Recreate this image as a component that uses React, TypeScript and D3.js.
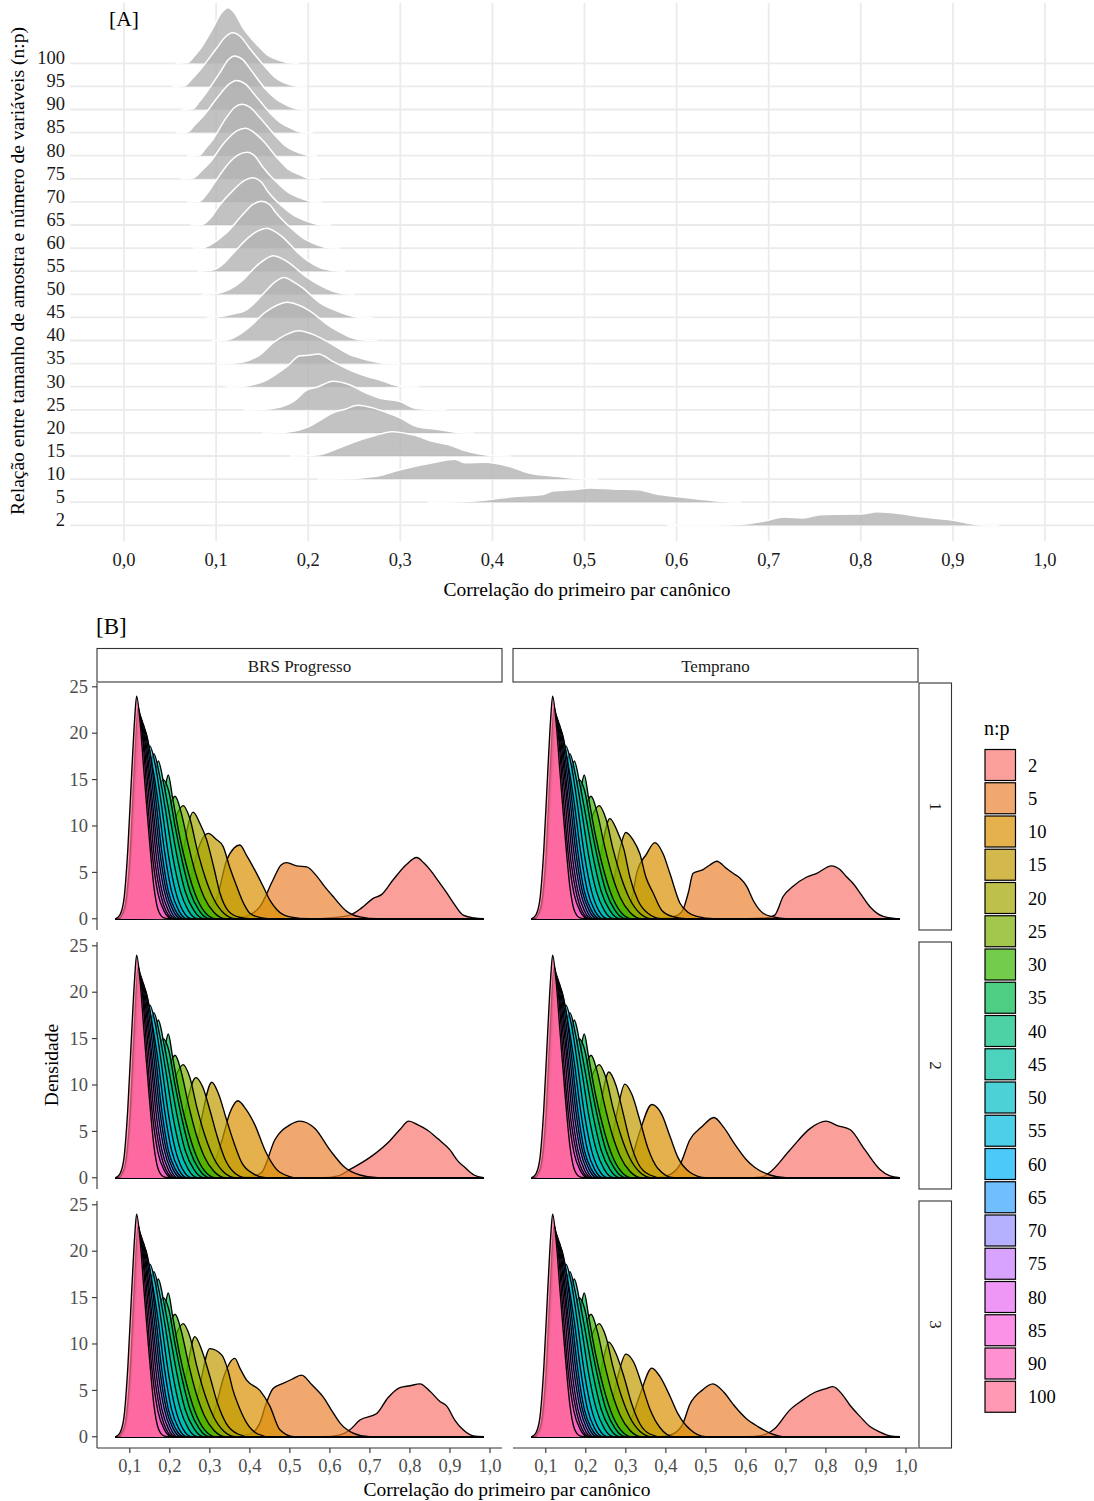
import React from 'react';
import * as d3 from 'd3';

// ---- data ----
// panel A: rows of the ridgeline plot (n:p), bottom to top
const levelsA = [2, 5, 10, 15, 20, 25, 30, 35, 40, 45, 50, 55, 60, 65, 70, 75, 80, 85, 90, 95, 100];

// pooled densities per row, [correlation, density]
const ridgeA: [number, number][][] = [
  // 2
  [[.59, 0], [.635, 0], [.67, .4], [.695, 1.8], [.717, 3.6], [.737, 3.2], [.756, 4.6], [.78, 4.8], [.8, 4.9], [.818, 5.8], [.842, 5.1], [.862, 3.9], [.88, 3.0], [.9, 2.2], [.915, 1.0], [.93, .2], [.95, 0]],
  // 5
  [[.33, 0], [.36, .1], [.39, .8], [.424, 2.5], [.453, 3.2], [.467, 4.9], [.49, 5.5], [.506, 6.1], [.53, 5.7], [.559, 5.4], [.578, 3.5], [.6, 2.5], [.616, 1.7], [.635, .9], [.655, .2], [.67, 0]],
  // 10
  [[.21, 0], [.235, .1], [.26, .6], [.274, 1.2], [.3, 4], [.335, 7], [.359, 8.6], [.371, 7], [.393, 7.3], [.418, 5.5], [.44, 2.6], [.469, 1.2], [.498, .1], [.515, 0]],
  // 15
  [[.18, 0], [.2, .2], [.215, .8], [.234, 3.5], [.253, 6.5], [.27, 8.5], [.291, 10.5], [.315, 9], [.335, 6.3], [.353, 4.8], [.371, 2.2], [.385, 1], [.4, .2], [.42, 0]],
  // 20
  [[.15, 0], [.166, .1], [.191, 1.4], [.2, 2.6], [.215, 6], [.227, 8.7], [.24, 10.2], [.254, 11.9], [.27, 10.8], [.285, 8.8], [.3, 6.5], [.317, 2.9], [.343, 1.4], [.364, .2], [.38, 0]],
  // 25
  [[.13, 0], [.148, .1], [.17, 1.2], [.184, 3.6], [.198, 8.4], [.21, 9.8], [.227, 12.3], [.245, 10.8], [.263, 7.2], [.278, 5], [.3, 3.6], [.314, .9], [.335, .1], [.35, 0]],
  // 30
  [[.11, 0], [.126, .1], [.155, 2.9], [.177, 8.7], [.191, 13.3], [.2, 13.6], [.211, 14.1], [.227, 10.8], [.249, 6.5], [.265, 4.3], [.278, 2.9], [.29, 1.2], [.3, .2], [.32, 0]],
  // 35
  [[.1, 0], [.115, .1], [.13, .8], [.148, 3.9], [.162, 9], [.175, 12.3], [.19, 14.2], [.205, 12.6], [.223, 9], [.245, 3.9], [.26, 2], [.27, 1], [.285, .1], [.3, 0]],
  // 40
  [[.095, 0], [.111, .2], [.125, 2.5], [.136, 5.8], [.154, 12.3], [.166, 15.2], [.177, 16.5], [.19, 15.2], [.198, 13.6], [.21, 10.3], [.22, 7.1], [.235, 3.5], [.245, 1.5], [.26, .2], [.275, 0]],
  // 45
  [[.09, 0], [.1, .2], [.118, 1.5], [.133, 3.3], [.152, 10.5], [.163, 15], [.174, 17.2], [.184, 15.3], [.194, 12.7], [.213, 6.2], [.225, 3.8], [.237, 1.9], [.253, .2], [.27, 0]],
  // 50
  [[.085, 0], [.1, .3], [.115, 2.2], [.129, 6.1], [.143, 11.9], [.153, 15], [.162, 16.6], [.172, 15.3], [.18, 13.3], [.198, 7.5], [.21, 4.5], [.22, 2.5], [.238, .3], [.25, 0]],
  // 55
  [[.08, 0], [.095, .4], [.108, 3.2], [.118, 7.5], [.136, 14.8], [.145, 17.3], [.155, 18.5], [.163, 17.3], [.172, 14.8], [.19, 7.5], [.2, 4.3], [.212, 1.7], [.23, .2], [.24, 0]],
  // 60
  [[.075, 0], [.087, .3], [.1, 3], [.111, 6.5], [.129, 14.5], [.14, 18.8], [.149, 20.2], [.158, 18.8], [.165, 15.2], [.183, 8], [.195, 4.2], [.205, 2.2], [.22, .3], [.235, 0]],
  // 65
  [[.072, 0], [.0854, .3], [.095, 3.5], [.1034, 8.3], [.118, 14.7], [.13, 19], [.14, 20.4], [.149, 18.5], [.157, 14], [.1755, 6.8], [.185, 4], [.197, 1.9], [.212, .2], [.225, 0]],
  // 70
  [[.068, 0], [.082, .3], [.09, 3.5], [.096, 6.9], [.114, 16.8], [.124, 20.3], [.134, 21.4], [.142, 19.8], [.15, 15.4], [.168, 7.6], [.178, 4.2], [.19, 1.9], [.204, .2], [.215, 0]],
  // 75
  [[.062, 0], [.0746, .3], [.084, 3.4], [.0926, 6.8], [.11, 16.1], [.122, 20.6], [.132, 21.8], [.141, 20], [.15, 16.8], [.168, 8.3], [.178, 4.3], [.19, 1.9], [.2, .3], [.212, 0]],
  // 80
  [[.068, 0], [.082, .3], [.089, 3.4], [.096, 6.8], [.1106, 16.1], [.12, 20.8], [.128, 22.2], [.137, 20.8], [.1467, 16.8], [.165, 8.3], [.175, 4.3], [.186, 1.9], [.199, .3], [.21, 0]],
  // 85
  [[.056, 0], [.069, .3], [.077, 3.4], [.0854, 6.8], [.1034, 16.1], [.114, 20.9], [.122, 22.5], [.132, 20.9], [.141, 16.8], [.159, 8.3], [.17, 4.3], [.181, 1.9], [.192, .3], [.205, 0]],
  // 90
  [[.062, 0], [.0746, .3], [.082, 3.5], [.089, 7.1], [.105, 16.4], [.113, 21.3], [.12, 23.1], [.129, 21.5], [.1377, 17.1], [.154, 8.6], [.165, 4.6], [.1755, 2.1], [.188, .3], [.2, 0]],
  // 95
  [[.052, 0], [.0656, .3], [.074, 3.3], [.0818, 6.7], [.0998, 16], [.11, 21.3], [.118, 23.1], [.127, 21.3], [.1359, 16.7], [.1539, 8.1], [.164, 3.9], [.1737, 1.7], [.185, .3], [.198, 0]],
  // 100
  [[.056, 0], [.069, .3], [.075, 2.5], [.0818, 5.7], [.0962, 15], [.105, 21.3], [.113, 24], [.12, 21.8], [.1286, 15.7], [.1467, 7.1], [.157, 3.3], [.168, 1.4], [.177, .3], [.19, 0]],
];

// panel B: n:p levels in the legend (95 is not there)
const levelsB = [2, 5, 10, 15, 20, 25, 30, 35, 40, 45, 50, 55, 60, 65, 70, 75, 80, 85, 90, 100];
const paletteB = ['#F8766D', '#EA8331', '#D89000', '#C09B00', '#A3A500', '#7CAE00', '#39B600', '#00BB4E', '#00BF7D', '#00C1A3',
  '#00BFC4', '#00BAE0', '#00B0F6', '#35A2FF', '#9590FF', '#C77CFF', '#E76BF3', '#FA62DB', '#FF62BC', '#FF6C91'];

const cultivars = ['BRS Progresso', 'Temprano'];
const reps = ['1', '2', '3'];

// densities for n:p 25..100, about the same in every facet
const sharedB: [number, number][][] = [
  [[.115, 0], [.14, .8], [.165, 3.5], [.19, 7.5], [.215, 11], [.233, 12.2], [.25, 10.8], [.268, 7.5], [.288, 4.5], [.31, 2.1], [.335, .6], [.365, 0]],
  [[.108, 0], [.132, .9], [.155, 4], [.178, 8.5], [.198, 12], [.213, 13.2], [.228, 11.5], [.246, 8], [.265, 4.8], [.286, 2.3], [.31, .7], [.34, 0]],
  [[.102, 0], [.124, 1], [.146, 4.5], [.168, 9.5], [.186, 13.5], [.196, 15.5], [.207, 13], [.224, 9], [.243, 5.5], [.263, 2.7], [.286, .8], [.315, 0]],
  [[.097, 0], [.118, 1], [.139, 5], [.161, 10.5], [.183, 15], [.197, 13.8], [.213, 10], [.231, 6.2], [.25, 3], [.273, .9], [.3, 0]],
  [[.092, 0], [.112, 1], [.132, 5.3], [.152, 11.5], [.171, 17], [.185, 14.5], [.201, 10.8], [.219, 6.5], [.238, 3], [.26, .9], [.285, 0]],
  [[.088, 0], [.107, 1], [.125, 5.5], [.143, 12.5], [.16, 17.8], [.174, 15.5], [.19, 11.5], [.207, 6.8], [.226, 3], [.246, .9], [.27, 0]],
  [[.085, 0], [.103, 1], [.12, 5.8], [.136, 13], [.15, 18.6], [.164, 16.5], [.18, 12], [.196, 7], [.214, 3], [.232, .9], [.255, 0]],
  [[.082, 0], [.1, 1], [.116, 6], [.13, 13.8], [.1375, 20.2], [.152, 17.5], [.171, 12.5], [.187, 7.2], [.204, 3], [.222, .9], [.243, 0]],
  [[.08, 0], [.097, 1], [.113, 6.2], [.126, 14], [.136, 20.5], [.151, 17.8], [.165, 12.8], [.18, 7.2], [.196, 3], [.214, .9], [.235, 0]],
  [[.078, 0], [.095, 1], [.11, 6.3], [.123, 14.3], [.133, 21], [.146, 18.2], [.16, 13], [.175, 7.2], [.191, 3], [.208, .9], [.228, 0]],
  [[.076, 0], [.092, 1], [.107, 6.5], [.119, 14.5], [.13, 21.4], [.142, 18.5], [.155, 13.2], [.17, 7.2], [.186, 3], [.202, .9], [.22, 0]],
  [[.074, 0], [.09, 1], [.104, 6.5], [.116, 15], [.127, 21.8], [.138, 19], [.151, 13.5], [.165, 7.2], [.18, 3], [.196, .9], [.215, 0]],
  [[.072, 0], [.088, 1], [.102, 6.5], [.113, 15], [.124, 22.2], [.134, 19.5], [.147, 13.5], [.16, 7.2], [.175, 3], [.19, .9], [.21, 0]],
  [[.07, 0], [.086, 1], [.1, 6.5], [.11, 15], [.121, 22.8], [.131, 20], [.143, 13.5], [.156, 7], [.17, 2.8], [.186, .8], [.205, 0]],
  [[.064, 0], [.075, .4], [.085, 2], [.095, 7.5], [.105, 16], [.112, 21.5], [.117, 24], [.125, 21.5], [.135, 16], [.148, 9], [.16, 3.5], [.172, .8], [.185, .1], [.2, 0]],
];

// densities for n:p 2, 5, 10, 15, 20 in each facet
const lowBrs1: [number, number][][] = [
  [[.55, 0], [.6, .1], [.65, .4], [.68, 1.2], [.708, 2.2], [.729, 2.6], [.758, 4.2], [.79, 5.8], [.817, 6.6], [.835, 6.0], [.85, 5.3], [.872, 4.0], [.892, 2.8], [.912, 1.5], [.933, .4], [.96, .1]],
  [[.3, 0], [.36, .1], [.392, .3], [.425, 1.3], [.458, 4.2], [.478, 5.8], [.492, 6.05], [.517, 5.7], [.542, 5.6], [.567, 4.6], [.59, 3.3], [.608, 2.4], [.642, .8], [.675, .2], [.72, 0]],
  [[.2, 0], [.26, .2], [.283, .5], [.317, 2.2], [.342, 6.3], [.36, 7.6], [.375, 7.95], [.392, 6.8], [.408, 5.6], [.433, 3.5], [.45, 2], [.467, 1], [.5, .2], [.55, 0]],
  [[.15, 0], [.2, .3], [.23, .9], [.242, 1.5], [.258, 5.3], [.275, 8], [.296, 9.2], [.315, 8.6], [.333, 7.8], [.35, 5.5], [.367, 3.5], [.385, 1.6], [.4, .6], [.43, .1], [.46, 0]],
  [[.13, 0], [.17, .3], [.2, 1], [.217, 2.2], [.233, 7], [.245, 10], [.258, 11.5], [.275, 10.3], [.292, 8.5], [.31, 5.5], [.325, 2.8], [.345, .9], [.37, .2], [.4, 0]],
];
const lowTem1: [number, number][][] = [
  [[.6, 0], [.65, .1], [.672, .4], [.693, 2.4], [.718, 3.5], [.752, 4.5], [.777, 4.9], [.814, 5.7], [.835, 5.3], [.852, 4.5], [.868, 3.8], [.885, 2.8], [.91, 1.3], [.943, .25], [.97, .05]],
  [[.35, 0], [.4, .1], [.43, .4], [.443, 1], [.456, 2.8], [.468, 4.9], [.493, 5.3], [.51, 5.8], [.527, 6.2], [.552, 5.4], [.568, 4.9], [.585, 4.4], [.602, 3.5], [.618, 2], [.643, .6], [.668, .2], [.7, 0]],
  [[.25, 0], [.285, .2], [.302, .8], [.318, 2.8], [.327, 4.9], [.352, 7], [.3725, 8.2], [.393, 7], [.41, 4.9], [.435, 1.7], [.455, .7], [.477, .25], [.52, 0]],
  [[.2, 0], [.24, .3], [.26, 1.5], [.272, 4.5], [.285, 7.5], [.3, 9.3], [.318, 8.5], [.335, 7], [.35, 4.5], [.368, 2.8], [.39, .9], [.42, .2], [.45, 0]],
  [[.17, 0], [.2, .5], [.222, 2.5], [.238, 7], [.26, 10.8], [.278, 9.5], [.295, 7.5], [.31, 4.5], [.33, 2], [.355, .6], [.39, 0]],
];
const lowBrs2: [number, number][][] = [
  [[.58, 0], [.62, .2], [.65, .9], [.7, 2.2], [.75, 4], [.775, 5.2], [.797, 6.1], [.82, 5.7], [.845, 5.1], [.87, 4.2], [.9, 3], [.92, 1.8], [.9375, 1.1], [.96, .3]],
  [[.35, 0], [.41, .2], [.43, .6], [.4625, 4.1], [.5, 5.7], [.525, 6.1], [.5625, 5.3], [.6, 3], [.6375, 1.1], [.675, .3], [.72, 0]],
  [[.24, 0], [.28, .3], [.31, 1.5], [.33, 4], [.35, 7], [.37, 8.3], [.39, 7.4], [.4125, 5.7], [.4375, 3], [.475, .6], [.52, 0]],
  [[.2, 0], [.24, .4], [.262, 2], [.28, 6.5], [.305, 10.3], [.322, 9], [.34, 6.5], [.36, 3.8], [.38, 1.6], [.41, .4], [.44, 0]],
  [[.17, 0], [.2, .6], [.222, 3], [.24, 7.5], [.265, 10.8], [.282, 9.8], [.3, 7.3], [.318, 4.5], [.338, 2], [.36, .6], [.39, 0]],
];
const lowTem2: [number, number][][] = [
  [[.6, 0], [.64, .1], [.66, .6], [.71, 3], [.76, 5.3], [.8, 6.1], [.83, 5.6], [.86, 5.2], [.8975, 3], [.935, .9], [.96, .2]],
  [[.35, 0], [.4, .2], [.435, 1.4], [.46, 4.1], [.49, 5.5], [.52, 6.5], [.545, 5.4], [.5725, 3.6], [.6, 2], [.6225, 1.1], [.66, .3], [.7, 0]],
  [[.24, 0], [.285, .3], [.31, 1.5], [.335, 5], [.365, 7.9], [.39, 6.8], [.41, 4.5], [.43, 2.2], [.46, .6], [.5, 0]],
  [[.19, 0], [.235, .5], [.26, 3], [.28, 7.5], [.2975, 10.1], [.315, 9], [.335, 6.2], [.355, 3.2], [.38, 1], [.42, 0]],
  [[.16, 0], [.2, .6], [.225, 4], [.24, 8.5], [.2575, 11.4], [.275, 10], [.293, 7], [.31, 4], [.33, 1.6], [.36, .3], [.39, 0]],
];
const lowBrs3: [number, number][][] = [
  [[.58, 0], [.625, .2], [.65, .75], [.675, 1.8], [.717, 2.5], [.745, 4.2], [.775, 5.3], [.8, 5.5], [.825, 5.7], [.85, 4.9], [.875, 3.8], [.892, 3.3], [.912, 1.8], [.933, .75], [.958, .1]],
  [[.35, 0], [.4, .3], [.425, 1.5], [.44, 3.5], [.458, 5.2], [.483, 5.75], [.505, 6.2], [.529, 6.65], [.555, 5.6], [.583, 4.3], [.605, 2.8], [.625, 1.5], [.658, .4], [.7, 0]],
  [[.24, 0], [.285, .4], [.305, 1.8], [.317, 3.6], [.335, 6.5], [.3625, 8.45], [.375, 7.4], [.392, 6.1], [.425, 5], [.45, 3.3], [.475, .75], [.51, 0]],
  [[.19, 0], [.235, .5], [.258, 2], [.275, 5.5], [.3, 9.5], [.33, 8.8], [.345, 7.2], [.358, 5], [.375, 3], [.392, 1.5], [.42, .3], [.45, 0]],
  [[.16, 0], [.2, .6], [.222, 2.5], [.24, 6.5], [.2625, 10.8], [.28, 9.3], [.3, 6.5], [.32, 3.5], [.34, 1.5], [.37, .3], [.4, 0]],
];
const lowTem3: [number, number][][] = [
  [[.6, 0], [.64, .15], [.67, .8], [.71, 2.9], [.74, 3.9], [.7725, 4.8], [.8, 5.2], [.8175, 5.4], [.84, 4.6], [.86, 3.4], [.885, 2.2], [.91, 1.1], [.935, .5], [.96, .1]],
  [[.36, 0], [.41, .2], [.44, 1.2], [.46, 3.5], [.49, 5], [.5175, 5.7], [.545, 4.8], [.57, 3.4], [.6, 2], [.63, 1.1], [.66, .4], [.7, 0]],
  [[.24, 0], [.28, .3], [.31, 1.5], [.335, 4.5], [.365, 7.4], [.385, 6.5], [.41, 4.4], [.43, 2.5], [.46, .8], [.5, 0]],
  [[.19, 0], [.235, .5], [.262, 3], [.28, 6.5], [.3, 8.9], [.32, 8], [.34, 5.6], [.36, 3], [.385, 1], [.42, 0]],
  [[.16, 0], [.2, .6], [.225, 3.5], [.24, 7.5], [.257, 10.2], [.275, 9], [.295, 6.5], [.315, 3.5], [.335, 1.4], [.36, .3], [.39, 0]],
];

const xTicks = [0, 0.1, 0.2, 0.3, 0.4, 0.5, 0.6, 0.7, 0.8, 0.9, 1.0];
const xTicksB = [0.1, 0.2, 0.3, 0.4, 0.5, 0.6, 0.7, 0.8, 0.9, 1.0];
const yTicksB = [0, 5, 10, 15, 20, 25];
const dataRangeB: [number, number] = [0.064, 0.984];

// ---- layout ----
const W = 1094;
const H = 1501;
const FONT = "'Liberation Serif', 'Times New Roman', serif";
const fmt = (v: number) => d3.format('.1f')(v).replace('.', ',');

const xA = d3.scaleLinear().domain([0, 1]).range([124, 1045]);
const yA = d3.scalePoint<number>().domain([...levelsA].reverse()).range([63.3, 525.3]);
const rowStep = (525.3 - 63.3) / (levelsA.length - 1);
const hA = d3.scaleLinear().domain([0, 9.96]).range([0, rowStep]);

const panelW = 405;
const panelH = 247;
const colX = [97, 513];
const rowY = [683, 942, 1201];
const xB = d3.scaleLinear().domain([0.018, 1.03]).range([0, panelW]);
const yB = d3.scaleLinear().domain([-1.21, 25.41]).range([panelH, 0]);

const facetsB = [
  { col: 0, row: 0, low: lowBrs1 },
  { col: 1, row: 0, low: lowTem1 },
  { col: 0, row: 1, low: lowBrs2 },
  { col: 1, row: 1, low: lowTem2 },
  { col: 0, row: 2, low: lowBrs3 },
  { col: 1, row: 2, low: lowTem3 },
];

function PanelA() {
  const order = [...levelsA].reverse(); // top ridge drawn first
  return (
    <g>
      {xTicks.map((t) => (
        <line key={'v' + t} x1={xA(t)} x2={xA(t)} y1={3} y2={541} stroke="#ebebeb" strokeWidth={1.8} />
      ))}
      {levelsA.map((lv) => (
        <line key={'h' + lv} x1={70} x2={W} y1={yA(lv)} y2={yA(lv)} stroke="#ebebeb" strokeWidth={1.8} />
      ))}
      {order.map((lv) => {
        const pts = ridgeA[levelsA.indexOf(lv)];
        const base = yA(lv) as number;
        const area = d3.area<[number, number]>()
          .x((d) => xA(d[0]))
          .y0(base)
          .y1((d) => base - hA(d[1]))
          .curve(d3.curveMonotoneX);
        const line = d3.line<[number, number]>()
          .x((d) => xA(d[0]))
          .y((d) => base - hA(d[1]))
          .curve(d3.curveMonotoneX);
        return (
          <g key={'r' + lv}>
            <path d={area(pts) || ''} fill="#b3b3b3" fillOpacity={0.8} />
            <path d={line(pts) || ''} fill="none" stroke="#fff" strokeWidth={1.5} />
          </g>
        );
      })}
      {levelsA.map((lv) => (
        <text key={'yl' + lv} x={65} y={(yA(lv) as number) + 0.8} textAnchor="end" fontSize={18.5} fill="#1a1a1a">{lv}</text>
      ))}
      {xTicks.map((t) => (
        <text key={'xl' + t} x={xA(t)} y={565.5} textAnchor="middle" fontSize={18.5} fill="#1a1a1a">{fmt(t)}</text>
      ))}
      <text x={587} y={596} textAnchor="middle" fontSize={19.5} fill="#000">Correlação do primeiro par canônico</text>
      <text transform="translate(24,271) rotate(-90)" textAnchor="middle" fontSize={19.5} fill="#000">
        Relação entre tamanho de amostra e número de variáveis (n:p)
      </text>
      <text x={109} y={26} fontSize={21.5} fill="#000">[A]</text>
    </g>
  );
}

function Facet({ col, row, low }: { col: number; row: number; low: [number, number][][] }) {
  const profiles = [...low, ...sharedB];
  const area = d3.area<[number, number]>()
    .x((d) => xB(d[0]))
    .y0(yB(0))
    .y1((d) => yB(d[1]))
    .curve(d3.curveMonotoneX);
  const line = d3.line<[number, number]>()
    .x((d) => xB(d[0]))
    .y((d) => yB(d[1]))
    .curve(d3.curveMonotoneX);
  return (
    <g transform={`translate(${colX[col]},${rowY[row]})`}>
      {profiles.map((p, i) => {
        const pts: [number, number][] = [...p];
        if (pts[0][0] > dataRangeB[0]) pts.unshift([dataRangeB[0], 0]);
        if (pts[pts.length - 1][0] < dataRangeB[1]) pts.push([dataRangeB[1], 0]);
        return (
          <g key={levelsB[i]}>
            <path d={area(pts) || ''} fill={paletteB[i]} fillOpacity={0.7} />
            <path d={line(pts) || ''} fill="none" stroke="#000" strokeWidth={1.35} strokeLinejoin="round" />
          </g>
        );
      })}
      {col === 0 && (
        <g>
          <line x1={0} x2={0} y1={0} y2={panelH} stroke="#333" strokeWidth={1.1} />
          {yTicksB.map((t) => (
            <g key={t}>
              <line x1={-5} x2={0} y1={yB(t)} y2={yB(t)} stroke="#333" strokeWidth={1.1} />
              <text x={-9} y={yB(t) + 6.3} textAnchor="end" fontSize={18.5} fill="#4d4d4d">{t}</text>
            </g>
          ))}
        </g>
      )}
      {row === 2 && (
        <g>
          <line x1={0} x2={panelW} y1={panelH} y2={panelH} stroke="#333" strokeWidth={1.1} />
          {xTicksB.map((t) => (
            <g key={t}>
              <line x1={xB(t)} x2={xB(t)} y1={panelH} y2={panelH + 5} stroke="#333" strokeWidth={1.1} />
              <text x={xB(t)} y={panelH + 24} textAnchor="middle" fontSize={18.5} fill="#4d4d4d">{fmt(t)}</text>
            </g>
          ))}
        </g>
      )}
    </g>
  );
}

function PanelB() {
  return (
    <g>
      <text x={96} y={634} fontSize={23} fill="#000">[B]</text>
      {cultivars.map((c, i) => (
        <g key={c}>
          <rect x={colX[i]} y={648.5} width={panelW} height={33.5} fill="#fff" stroke="#333" strokeWidth={1.1} />
          <text x={colX[i] + panelW / 2} y={671.5} textAnchor="middle" fontSize={17} fill="#1a1a1a">{c}</text>
        </g>
      ))}
      {reps.map((r, i) => (
        <g key={r}>
          <rect x={919} y={rowY[i]} width={32.5} height={panelH} fill="#fff" stroke="#333" strokeWidth={1.1} />
          <text transform={`translate(935,${rowY[i] + panelH / 2}) rotate(90)`} textAnchor="middle"
            dominantBaseline="central" fontSize={17} fill="#1a1a1a">{r}</text>
        </g>
      ))}
      {facetsB.map((f, i) => <Facet key={i} {...f} />)}
      <text x={507} y={1496} textAnchor="middle" fontSize={19.5} fill="#000">Correlação do primeiro par canônico</text>
      <text transform="translate(58,1065) rotate(-90)" textAnchor="middle" fontSize={19.5} fill="#000">Densidade</text>
      <text x={984} y={735} fontSize={20} fill="#000">n:p</text>
      {levelsB.map((lv, i) => {
        const y0 = 749.5 + i * 33.25;
        return (
          <g key={lv}>
            <rect x={985} y={y0} width={30.5} height={31} fill={paletteB[i]} fillOpacity={0.7} stroke="#000" strokeWidth={1.2} />
            <text x={1028} y={y0 + 16} dominantBaseline="central" fontSize={18.5} fill="#000">{lv}</text>
          </g>
        );
      })}
    </g>
  );
}

export default function App() {
  return (
    <div style={{ position: 'absolute', left: 0, top: 0 }}>
      <svg width={W} height={H} style={{ display: 'block', fontFamily: FONT }}>
        <rect width={W} height={H} fill="#fff" />
        <PanelA />
        <PanelB />
      </svg>
    </div>
  );
}
